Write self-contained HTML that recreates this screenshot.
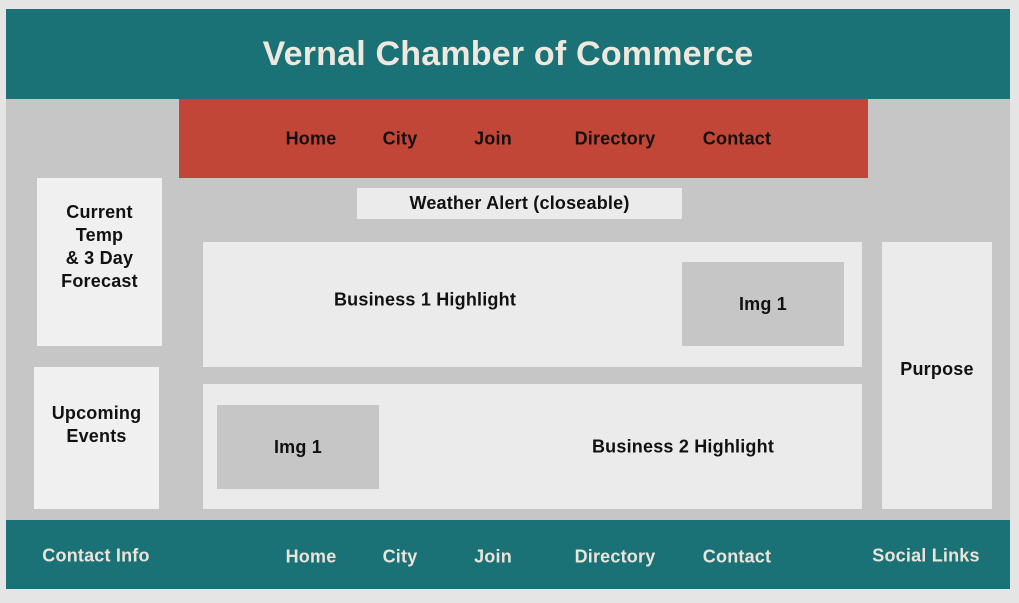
<!DOCTYPE html>
<html><head><meta charset="utf-8"><style>
*{margin:0;padding:0;box-sizing:border-box}
body{width:1019px;height:603px;background:#e5e5e5;position:relative;overflow:hidden;font-family:"Liberation Sans",sans-serif;font-weight:bold;color:#111;letter-spacing:0.2px}
.a{position:absolute;display:flex;align-items:center;justify-content:center;text-align:center}
.t{position:absolute;font-size:18px;white-space:nowrap;transform:translate(-50%,-50%)}
</style></head><body>
<div class="a" style="left:6px;top:99px;width:1004px;height:421px;background:#c6c6c6"></div>
<div class="a" style="left:6px;top:9px;width:1004px;height:90px;background:#1a7277;color:#efe8de;font-size:34px">Vernal Chamber of Commerce</div>
<div class="a" style="left:179px;top:99px;width:689px;height:79px;background:#c24637"></div>
<span class="t" style="left:311px;top:139px">Home</span>
<span class="t" style="left:400px;top:139px">City</span>
<span class="t" style="left:493px;top:139px">Join</span>
<span class="t" style="left:615px;top:139px">Directory</span>
<span class="t" style="left:737px;top:139px">Contact</span>
<div class="a" style="left:37px;top:178px;width:125px;height:168px;background:#f0f0f0;font-size:18px;line-height:23px;padding-bottom:30px">Current<br>Temp<br>&amp; 3 Day<br>Forecast</div>
<div class="a" style="left:357px;top:188px;width:325px;height:31px;background:#ebebeb;font-size:18px">Weather Alert (closeable)</div>
<div class="a" style="left:203px;top:242px;width:659px;height:125px;background:#ebebeb"></div>
<span class="t" style="left:425px;top:300px">Business 1 Highlight</span>
<div class="a" style="left:682px;top:262px;width:162px;height:84px;background:#c6c6c6;font-size:18px">Img 1</div>
<div class="a" style="left:34px;top:367px;width:125px;height:142px;background:#f0f0f0;font-size:18px;line-height:23px;padding-bottom:26px">Upcoming<br>Events</div>
<div class="a" style="left:203px;top:384px;width:659px;height:125px;background:#ebebeb"></div>
<div class="a" style="left:217px;top:405px;width:162px;height:84px;background:#c6c6c6;font-size:18px">Img 1</div>
<span class="t" style="left:683px;top:447px">Business 2 Highlight</span>
<div class="a" style="left:882px;top:242px;width:110px;height:267px;background:#ebebeb;font-size:18px;padding-bottom:12px">Purpose</div>
<div class="a" style="left:6px;top:520px;width:1004px;height:69px;background:#1a7277"></div>
<div style="color:#eae4da">
<span class="t" style="left:96px;top:556px">Contact Info</span>
<span class="t" style="left:311px;top:557px">Home</span>
<span class="t" style="left:400px;top:557px">City</span>
<span class="t" style="left:493px;top:557px">Join</span>
<span class="t" style="left:615px;top:557px">Directory</span>
<span class="t" style="left:737px;top:557px">Contact</span>
<span class="t" style="left:926px;top:556px">Social Links</span>
</div>
</body></html>
